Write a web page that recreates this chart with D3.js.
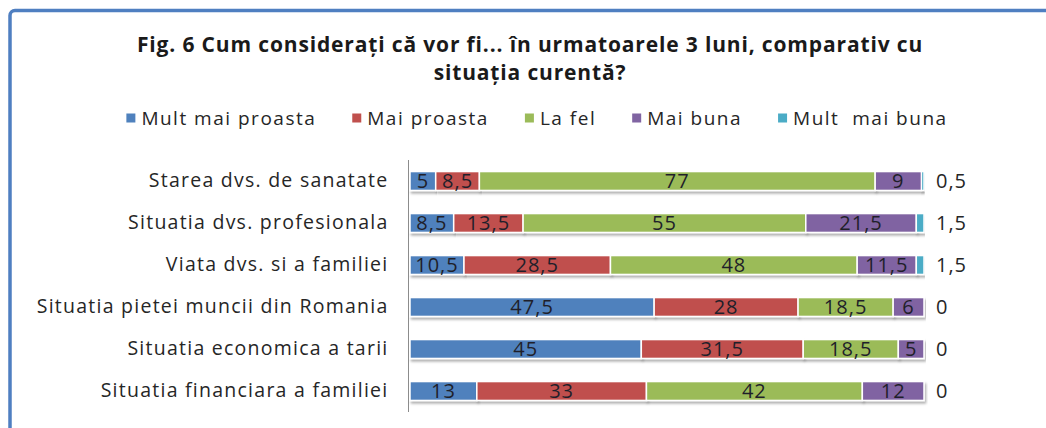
<!DOCTYPE html>
<html>
<head>
<meta charset="utf-8">
<script src="https://cdn.jsdelivr.net/npm/d3@7"></script>
<style>
    html, body { margin: 0; padding: 0; background: #fff; }
    svg { display: block; }
    text { font-family: "Open Sans", "Noto Sans", sans-serif; fill: #262626; }
</style>
</head>
<body>
<div id="content"></div>
<script>
// Values, in percent
var categories = [
    "Starea dvs. de sanatate",
    "Situatia dvs. profesionala",
    "Viata dvs. si a familiei",
    "Situatia pietei muncii din Romania",
    "Situatia economica a tarii",
    "Situatia financiara a familiei"
];
var seriesNames = ["Mult mai proasta", "Mai proasta", "La fel", "Mai buna", "Mult  mai buna"];
var multMaiProasta = [5, 8.5, 10.5, 47.5, 45, 13];
var maiProasta = [8.5, 13.5, 28.5, 28, 31.5, 33];
var laFel = [77, 55, 48, 18.5, 18.5, 42];
var maiBuna = [9, 21.5, 11.5, 6, 5, 12];
var multMaiBuna = [0.5, 1.5, 1.5, 0, 0, 0];
var titleLines = [
    "Fig. 6 Cum considerați că vor fi... în urmatoarele 3 luni, comparativ cu",
    "situația curentă?"
];

var chart = (function () {

    "use strict";

    var width = 1046,
        height = 428,
        colors = ["#4F81BD", "#C0504D", "#9BBB59", "#8064A2", "#4BACC6"],
        fmt = d3.formatLocale({decimal: ",", thousands: ".", grouping: [3], currency: ["", ""]}).format("~f");

    function buildRows() {
        var cols = [multMaiProasta, maiProasta, laFel, maiBuna, multMaiBuna];
        return categories.map(function (c, i) {
            var row = {category: c};
            seriesNames.forEach(function (s, j) { row[s] = cols[j][i]; });
            return row;
        });
    }

    function render() {
        var rows = buildRows(),
            stacked = d3.stack().keys(seriesNames)(rows);

        var svg = d3.select("#content").append("svg")
            .attr("width", width)
            .attr("height", height);

        var defs = svg.append("defs");
        defs.append("filter").attr("id", "shadow")
            .attr("x", "-5%").attr("y", "-30%").attr("width", "110%").attr("height", "180%")
            .append("feDropShadow")
            .attr("dx", 1.5).attr("dy", 2.5).attr("stdDeviation", 1.2)
            .attr("flood-color", "#000").attr("flood-opacity", 0.3);

        // frame
        svg.append("rect")
            .attr("x", 10).attr("y", 10.5)
            .attr("width", 1200).attr("height", 600)
            .attr("rx", 5)
            .attr("fill", "#fff")
            .attr("stroke", "#4F7FC1")
            .attr("stroke-width", 3.5);

        // title
        svg.append("g").selectAll("text")
            .data(titleLines)
            .enter().append("text")
            .attr("x", 530)
            .attr("y", function (d, i) { return 52 + i * 28; })
            .attr("text-anchor", "middle")
            .style("font-size", "21px")
            .style("letter-spacing", "0.85px")
            .style("font-weight", "bold")
            .style("fill", "#1a1a1a")
            .text(function (d) { return d; });

        var x = d3.scaleLinear().domain([0, 100]).range([410, 924]),
            y = d3.scaleBand().domain(categories).range([160, 412])
                .paddingInner(0.55).paddingOuter(0.275);

        // legend
        var legend = svg.append("g").attr("class", "legend"),
            lx = 0;
        seriesNames.forEach(function (s, i) {
            var g = legend.append("g").attr("transform", "translate(" + lx + ",0)");
            g.append("rect")
                .attr("x", 0).attr("y", -4.5)
                .attr("width", 9).attr("height", 9)
                .attr("fill", colors[i]);
            var t = g.append("text")
                .attr("x", 15).attr("y", 0)
                .attr("dy", ".35em")
                .style("font-size", "19px")
                .style("letter-spacing", "1.5px")
                .style("white-space", "pre")
                .text(s);
            lx += 15 + t.node().getComputedTextLength() + 36;
        });
        var lw = lx - 36;
        legend.attr("transform", "translate(" + (537 - lw / 2) + ",118)");

        // bars
        var plot = svg.append("g");
        var layer = plot.selectAll("g.series")
            .data(stacked)
            .enter().append("g")
            .attr("class", "series")
            .attr("fill", function (d, i) { return colors[i]; });

        layer.selectAll("rect")
            .data(function (d) { return d; })
            .enter().append("rect")
            .attr("x", function (d) { return x(d[0]); })
            .attr("y", function (d) { return y(d.data.category); })
            .attr("width", function (d) { return Math.max(0, x(d[1]) - x(d[0])); })
            .attr("height", y.bandwidth())
            .attr("stroke", "#fff")
            .attr("stroke-width", 1.5)
            .attr("filter", "url(#shadow)")
            .style("display", function (d) { return d[1] - d[0] > 0 ? null : "none"; });

        // labels inside the bars for the first four series
        layer.filter(function (d, i) { return i < 4; })
            .selectAll("text")
            .data(function (d) { return d.map(function (p) { return {p: p, key: d.key}; }); })
            .enter().append("text")
            .attr("x", function (d) { return (x(d.p[0]) + x(d.p[1])) / 2; })
            .attr("y", function (d) { return y(d.p.data.category) + y.bandwidth() / 2; })
            .attr("dy", ".36em")
            .attr("text-anchor", "middle")
            .style("font-size", "20px")
            .style("letter-spacing", "1px")
            .style("fill", "#1f1f2a")
            .text(function (d) { return fmt(d.p.data[d.key]); });

        // last series labels sit right of the bar
        plot.append("g").selectAll("text")
            .data(stacked[4])
            .enter().append("text")
            .attr("x", function (d) { return x(d[1]) + 12; })
            .attr("y", function (d) { return y(d.data.category) + y.bandwidth() / 2; })
            .attr("dy", ".36em")
            .style("font-size", "20px")
            .style("letter-spacing", "1px")
            .text(function (d) { return fmt(d.data[seriesNames[4]]); });

        // category axis
        var axis = svg.append("g")
            .attr("transform", "translate(408.5,0)")
            .call(d3.axisLeft(y).tickSize(0).tickPadding(20));
        axis.select(".domain").attr("stroke", "#8c8c8c").attr("d", "M0,160V412");
        axis.selectAll(".tick text")
            .style("font-size", "19.5px")
            .style("letter-spacing", "1.25px")
            .style("font-family", "\"Open Sans\", sans-serif")
            .style("fill", "#262626");
    }

    return {
        render: render
    };

}());

chart.render();
</script>
</body>
</html>
